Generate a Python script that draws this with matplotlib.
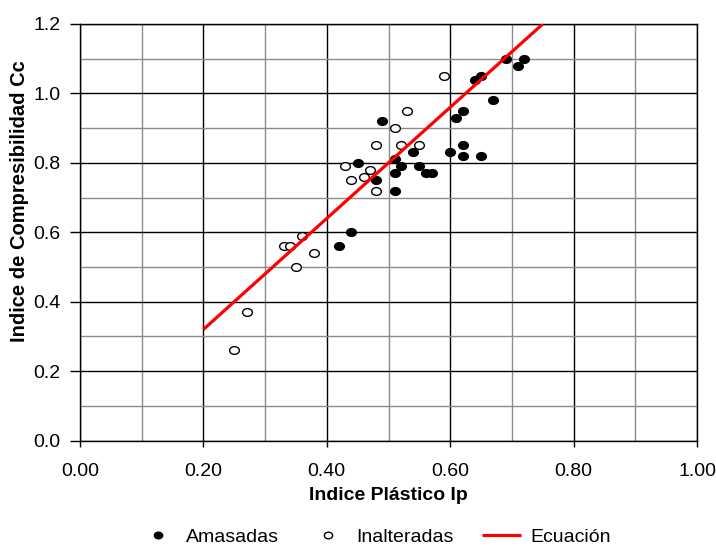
"""
Indice de compresibilidad Cc vs indice plastico Ip (muestras amasadas e inalteradas).
"""

import numpy as np
import matplotlib
matplotlib.use("Agg")
import matplotlib.pyplot as plt
import matplotlib.ticker as mticker
from matplotlib.path import Path
from matplotlib.transforms import Affine2D

plt.rcParams["font.family"] = ["Liberation Sans", "DejaVu Sans"]

# -- Data --------------------------------------------------------------------
amasadas_ip = [0.69, 0.72, 0.71, 0.64, 0.65, 0.67, 0.62, 0.61, 0.49, 0.62,
               0.60, 0.62, 0.65, 0.54, 0.51, 0.45, 0.52, 0.55, 0.56, 0.57,
               0.51, 0.48, 0.51, 0.44, 0.42]
amasadas_cc = [1.10, 1.10, 1.08, 1.04, 1.05, 0.98, 0.95, 0.93, 0.92, 0.85,
               0.83, 0.82, 0.82, 0.83, 0.81, 0.80, 0.79, 0.79, 0.77, 0.77,
               0.77, 0.75, 0.72, 0.60, 0.56]

inalteradas_ip = [0.59, 0.53, 0.51, 0.48, 0.52, 0.55, 0.43, 0.47, 0.46, 0.44,
                  0.48, 0.36, 0.33, 0.34, 0.38, 0.35, 0.27, 0.25]
inalteradas_cc = [1.05, 0.95, 0.90, 0.85, 0.85, 0.85, 0.79, 0.78, 0.76, 0.75,
                  0.72, 0.59, 0.56, 0.56, 0.54, 0.50, 0.37, 0.26]

# Ecuacion: Cc = 1.6 * Ip
ecuacion_ip = [0.20, 0.75]
ecuacion_cc = [0.32, 1.20]

# slightly flattened circle, like the original markers
ellipse = Path.unit_circle().transformed(Affine2D().scale(1.0, 0.8))

# -- Plot --------------------------------------------------------------------
fig = plt.figure(figsize=(7.16, 5.47), dpi=100)
ax = fig.add_axes([80 / 716, 1 - 440.5 / 547, 617 / 716, 416.5 / 547])

ax.plot(amasadas_ip, amasadas_cc, ls="none", marker=ellipse, ms=7,
        mfc="black", mec="black", label="Amasadas", zorder=3)
ax.plot(inalteradas_ip, inalteradas_cc, ls="none", marker=ellipse, ms=7,
        mfc="white", mec="black", mew=1.0, label="Inalteradas", zorder=3)
ax.plot(ecuacion_ip, ecuacion_cc, color="#ff0000", lw=2.3,
        label="Ecuación", zorder=4, solid_capstyle="butt")

ax.set_xlim(0, 1.0)
ax.set_ylim(0, 1.2)
ax.xaxis.set_major_locator(mticker.MultipleLocator(0.2))
ax.xaxis.set_minor_locator(mticker.MultipleLocator(0.1))
ax.yaxis.set_major_locator(mticker.MultipleLocator(0.2))
ax.yaxis.set_minor_locator(mticker.MultipleLocator(0.1))
ax.xaxis.set_major_formatter(mticker.FormatStrFormatter("%.2f"))
ax.yaxis.set_major_formatter(mticker.FormatStrFormatter("%.1f"))

ax.grid(which="major", color="black", lw=1.0)
ax.grid(which="minor", color="#8c8c8c", lw=1.0)
ax.set_axisbelow(True)

for s in ax.spines.values():
    s.set_color("black")
    s.set_linewidth(1.0)

ax.tick_params(which="major", direction="out", width=1.0,
               labelsize=14, colors="black")
ax.tick_params(axis="x", which="major", length=4.5, pad=12)
ax.tick_params(axis="y", which="major", length=7, pad=7)
ax.tick_params(which="minor", length=0)

ax.set_xlabel("Indice Plástico Ip", fontsize=14, fontweight="bold",
              labelpad=5)
ax.set_ylabel("Indice de Compresibilidad Cc", fontsize=14.5,
              fontweight="bold")
# the label sits just left of the tick labels, as in the original
ax.yaxis.set_label_coords(-0.082, 0.575)

fig.legend(loc="center", bbox_to_anchor=(374.5 / 716, 1 - 537 / 547),
           ncol=3, frameon=False, fontsize=14, handlelength=2.0,
           handletextpad=0.45, columnspacing=1.5, borderpad=0,
           markerscale=0.85)

fig.savefig("out.png", dpi=100, facecolor="white")
plt.close(fig)
